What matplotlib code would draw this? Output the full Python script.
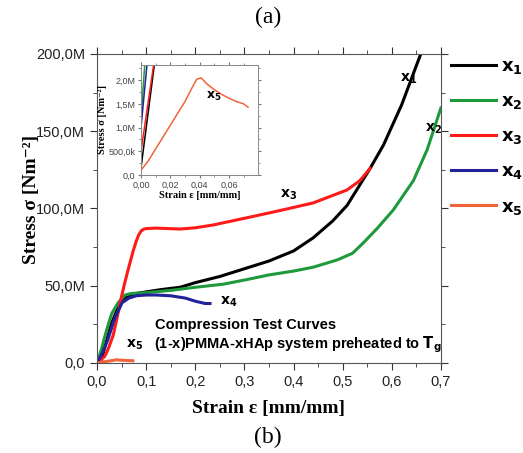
import matplotlib
matplotlib.use("Agg")
import matplotlib.pyplot as plt
from matplotlib.ticker import MultipleLocator, FuncFormatter

plt.rcParams['font.family'] = ['Liberation Sans', 'DejaVu Sans']
plt.rcParams['mathtext.fontset'] = 'dejavusans'

# strain [mm/mm] and stress [MN/m^2]
x1_strain = [0, 0.009, 0.014, 0.02, 0.03, 0.047, 0.06, 0.08, 0.1, 0.13, 0.169, 0.2, 0.25, 0.305,
             0.35, 0.4, 0.44, 0.48, 0.509, 0.556, 0.583, 0.62, 0.659, 0.67]
x1_stress = [0.15, 2.3, 8, 15, 26, 39, 43, 45, 46, 47.5, 49, 52, 56, 61.5,
             66, 72.5, 81, 92, 102, 126, 141, 167, 200, 210]

x2_strain = [0, 0.0025, 0.01, 0.014, 0.022, 0.03, 0.043, 0.057, 0.07, 0.1, 0.15, 0.2, 0.257, 0.305,
             0.35, 0.4, 0.44, 0.489, 0.52, 0.542, 0.57, 0.603, 0.644, 0.672, 0.7]
x2_stress = [1.2, 2.3, 10, 15, 24, 32, 39, 44, 45, 45.5, 47, 49, 51, 54,
             57, 59.5, 62, 66.7, 71, 77.7, 87, 99, 118, 138, 165]

x3_strain = [0, 0.0085, 0.015, 0.02, 0.025, 0.033, 0.04, 0.047, 0.055, 0.063, 0.074, 0.08, 0.085,
             0.09, 0.095, 0.1, 0.12, 0.169, 0.2, 0.236, 0.305, 0.37, 0.44, 0.509, 0.535, 0.556]
x3_stress = [0.5, 2.3, 4, 7, 11, 18, 28, 39, 50, 60, 73, 79, 83,
             85.5, 86.6, 87, 87.3, 86.7, 87.5, 89.3, 94, 98.5, 103.6, 112, 118, 126]

x4_strain = [0, 0.004, 0.01, 0.022, 0.035, 0.051, 0.065, 0.08, 0.1, 0.12, 0.15, 0.18, 0.2, 0.22, 0.23]
x4_stress = [1.0, 2.3, 6, 15, 28, 39, 42, 43.5, 44, 44, 43.5, 42, 40, 38.5, 38.5]

x5_strain = [0, 0.005, 0.01, 0.015, 0.02, 0.025, 0.03, 0.035, 0.038, 0.041, 0.045, 0.05,
             0.055, 0.06, 0.065, 0.07, 0.073]
x5_stress = [0.1, 0.3, 0.55, 0.8, 1.05, 1.3, 1.55, 1.85, 2.02, 2.05, 1.92, 1.8,
             1.7, 1.62, 1.55, 1.5, 1.43]

names = ["1", "2", "3", "4", "5"]
colors = ["#000000", "#1e9a3c", "#ff1a1a", "#22229a", "#f0643c"]
curves = [(x1_strain, x1_stress), (x2_strain, x2_stress), (x3_strain, x3_stress),
          (x4_strain, x4_stress), (x5_strain, x5_stress)]

serif = ['Liberation Serif', 'DejaVu Serif']

fig = plt.figure(figsize=(5.23, 4.53), dpi=100)
ax = fig.add_axes([0.1855, 0.1987, 0.6575, 0.6821])

handles = []
for (s, st), c, n in zip(curves, colors, names):
    h, = ax.plot(s, st, color=c, lw=2.2, label=r"$\mathbf{x_{%s}}$" % n)
    handles.append(h)

ax.set_xlim(0, 0.7)
ax.set_ylim(0, 200)
ax.xaxis.set_major_locator(MultipleLocator(0.1))
ax.xaxis.set_minor_locator(MultipleLocator(0.05))
ax.yaxis.set_major_locator(MultipleLocator(50))
ax.yaxis.set_minor_locator(MultipleLocator(25))
ax.xaxis.set_major_formatter(FuncFormatter(lambda v, p: f"{v:.1f}".replace('.', ',')))
ax.yaxis.set_major_formatter(FuncFormatter(
    lambda v, p: "0,0" if v == 0 else f"{v:.1f}M".replace('.', ',')))
ax.tick_params(which='both', direction='out', top=True, right=True, colors='#333333',
               labelcolor='#222222', labelsize=10.5)
ax.tick_params(which='major', length=5)
ax.tick_params(which='minor', length=3)
for sp in ax.spines.values():
    sp.set_color('#555555')

ax.set_xlabel("Strain ε [mm/mm]", family=serif, fontweight='bold', fontsize=14, labelpad=8)
ax.set_ylabel("Stress σ [Nm⁻²]", family=serif, fontweight='bold', fontsize=14)
ax.yaxis.set_label_coords(-0.165, 0.53)

# curve labels
ax.text(0.617, 182, r"$\mathbf{x_1}$", fontsize=10)
ax.text(0.668, 150, r"$\mathbf{x_2}$", fontsize=10)
ax.text(0.373, 107, r"$\mathbf{x_3}$", fontsize=10)
ax.text(0.25, 39.5, r"$\mathbf{x_4}$", fontsize=10, va='center')
ax.text(0.058, 11.7, r"$\mathbf{x_5}$", fontsize=10, va='center')
ax.text(0.118, 24.5, "Compression Test Curves", fontsize=10.5, fontweight='bold', va='center')
ax.text(0.116, 11.7, r"(1-x)PMMA-xHAp system preheated to $\mathbf{T_g}$", fontsize=10.5,
        fontweight='bold', va='center')

fig.legend(handles=handles, loc='upper left', bbox_to_anchor=(0.848, 0.888),
           frameon=False, fontsize=13, handlelength=2.5, handletextpad=0.3,
           labelspacing=0.95, borderaxespad=0)

# inset: zoom on the start of the curves
ins = fig.add_axes([0.2696, 0.6137, 0.2237, 0.2428])
for (s, st), c in zip(curves, colors):
    ins.plot(s, st, color=c, lw=1.1)
ins.set_xlim(0, 0.0798)
ins.set_ylim(0, 2.32)
ins.xaxis.set_major_locator(MultipleLocator(0.02))
ins.xaxis.set_minor_locator(MultipleLocator(0.01))
ins.yaxis.set_major_locator(MultipleLocator(0.5))
ins.yaxis.set_minor_locator(MultipleLocator(0.25))
ins.xaxis.set_major_formatter(FuncFormatter(lambda v, p: f"{v:.2f}".replace('.', ',')))


def inset_y(v, p):
    if v == 0:
        return "0,0"
    if v < 1:
        return f"{v * 1000:.1f}k".replace('.', ',')
    return f"{v:.1f}M".replace('.', ',')


ins.yaxis.set_major_formatter(FuncFormatter(inset_y))
ins.tick_params(which='both', direction='out', top=True, right=True, colors='#777777',
                labelcolor='#444444', labelsize=6.5, pad=1.5)
ins.tick_params(which='major', length=2.5)
ins.tick_params(which='minor', length=1.5)
for sp in ins.spines.values():
    sp.set_color('#888888')
    sp.set_linewidth(0.7)
ins.set_xlabel("Strain ε [mm/mm]", family=serif, fontweight='bold', fontsize=7.5, labelpad=1)
ins.set_ylabel("Stress σ [Nm⁻²]", family=serif, fontweight='bold', fontsize=7.5, labelpad=1)
ins.text(0.044, 1.6, r"$\mathbf{x_5}$", fontsize=9)

fig.text(0.513, 0.962, "(a)", family=serif, fontsize=17, ha='center', va='center')
fig.text(0.513, 0.035, "(b)", family=serif, fontsize=17, ha='center', va='center')

fig.savefig("out.png", dpi=100)
